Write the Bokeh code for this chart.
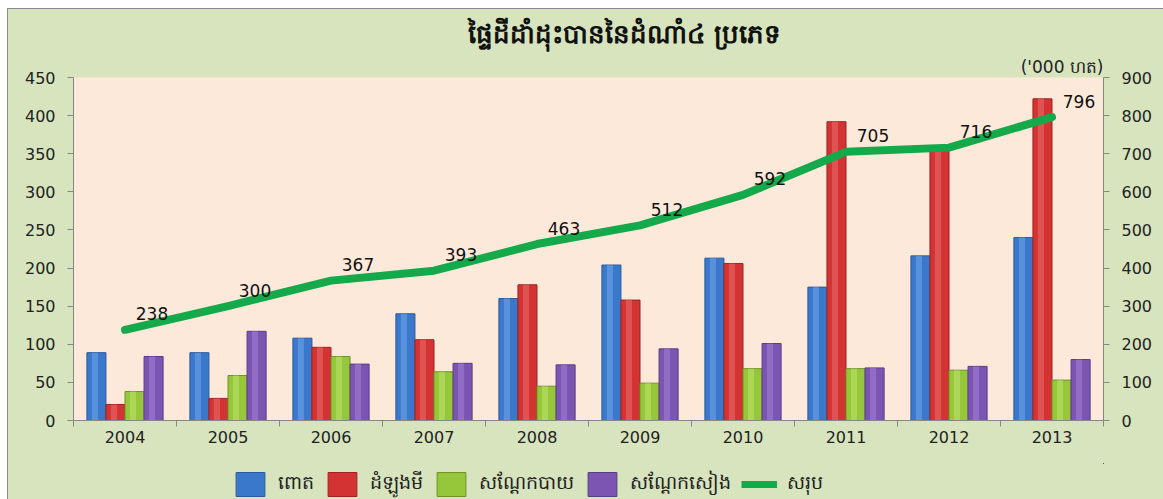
import numpy as np
from bokeh.plotting import figure
from bokeh.layouts import column
from bokeh.models import (ColumnDataSource, Range1d, LinearAxis, FixedTicker,
                          Legend, LegendItem, LabelSet, Title)
from bokeh.core.properties import value
from bokeh.transform import dodge
from bokeh.embed import file_html
from bokeh.resources import INLINE

years = ["2004", "2005", "2006", "2007", "2008", "2009", "2010", "2011", "2012", "2013"]
corn = [89, 89, 108, 140, 160, 204, 213, 175, 216, 240]
cassava = [21, 29, 96, 106, 178, 158, 206, 392, 356, 422]
mungbean = [38, 59, 84, 64, 45, 49, 68, 68, 66, 53]
soybean = [84, 117, 74, 75, 73, 94, 101, 69, 71, 80]
total = [238, 300, 367, 393, 463, 512, 592, 705, 716, 796]

series_names = ["ពោត", "ដំឡូងមី", "សណ្តែកបាយ", "សណ្តែកសៀង", "សរុប"]
title_text = "ផ្ទៃដីដាំដុះបាននៃដំណាំ៤ ប្រភេទ"
unit_text = "('000 ហត)"

KH = "DejaVu Sans"
NUM = "DejaVu Sans"
BG = "#d7e4bd"
AX = "#868686"

pos = [i + 0.5 for i in range(len(years))]
src = ColumnDataSource(dict(x=pos, corn=corn, cassava=cassava, mung=mungbean,
                            soy=soybean, total=total,
                            total_s=[str(v) for v in total]))

W = 1155
H_MAIN = 454
H_LEG = 36
p = figure(width=W, height=H_MAIN, output_backend="svg", toolbar_location=None,
           x_range=Range1d(0, len(years)), y_range=Range1d(0, 450),
           min_border_left=65, min_border_right=60, min_border_top=68,
           min_border_bottom=43)
p.extra_y_ranges = {"right": Range1d(0, 900)}

p.background_fill_color = "#fde9da"
p.border_fill_color = BG
p.outline_line_color = None
p.xgrid.visible = False
p.ygrid.visible = False

bw = 0.185
fills = ["#3a78cc", "#d43333", "#96c63a", "#7b55b1"]
lights = ["#7fb2f0", "#f07a7a", "#c8ec7a", "#ad8ce0"]
lines = ["#2a5a9c", "#9c2424", "#6f9326", "#5a3c86"]
fields = ["corn", "cassava", "mung", "soy"]
offs = [-1.5 * bw, -0.5 * bw, 0.5 * bw, 1.5 * bw]
rends = []
for f, o, fc, lt, lc in zip(fields, offs, fills, lights, lines):
    r = p.vbar(x=dodge("x", o, range=p.x_range), top=f, width=bw, source=src,
               fill_color=fc, line_color=lc, line_width=1)
    p.vbar(x=dodge("x", o - bw * 0.08, range=p.x_range), top=f, width=bw * 0.32, source=src,
           fill_color=lt, fill_alpha=0.45, line_color=None)
    rends.append(r)

lr = p.line("x", "total", source=src, y_range_name="right", line_color="#14a94a",
            line_width=8, line_cap="round", line_join="round")
rends.append(lr)

labels = LabelSet(x="x", y="total", text="total_s", source=src, y_range_name="right",
                  x_offset=27, y_offset=16, text_align="center", text_baseline="middle",
                  text_font=value(NUM), text_font_size=value("17px"), text_color="#111111")
p.add_layout(labels)

# axes
xa = p.xaxis[0]
xa.ticker = FixedTicker(ticks=pos, minor_ticks=list(range(len(years) + 1)))
xa.major_label_overrides = {pv: y for pv, y in zip(pos, years)}
xa.major_tick_out = 0
xa.major_tick_in = 0
xa.minor_tick_out = 6
xa.minor_tick_in = 0
xa.minor_tick_line_color = AX
xa.axis_line_color = AX
xa.major_label_text_font = NUM
xa.major_label_text_font_size = "16px"
xa.major_label_text_color = "#222222"
xa.major_label_standoff = 4

ya = p.yaxis[0]
ya.ticker = FixedTicker(ticks=list(range(0, 451, 50)))
ya.major_tick_out = 6
ya.major_tick_in = 0
ya.minor_tick_out = 0
ya.minor_tick_in = 0
ya.major_tick_line_color = AX
ya.axis_line_color = AX
ya.major_label_text_font = NUM
ya.major_label_text_font_size = "16px"
ya.major_label_text_color = "#222222"
ya.major_label_standoff = 12

ra = LinearAxis(y_range_name="right", ticker=FixedTicker(ticks=list(range(0, 901, 100))))
ra.major_tick_out = 6
ra.major_tick_in = 0
ra.minor_tick_out = 0
ra.minor_tick_in = 0
ra.major_tick_line_color = AX
ra.axis_line_color = AX
ra.major_label_text_font = NUM
ra.major_label_text_font_size = "16px"
ra.major_label_text_color = "#222222"
ra.major_label_standoff = 12
p.add_layout(ra, "right")

p.add_layout(Title(text=unit_text, align="right", standoff=1, text_font=NUM,
                   text_font_size="17px", text_font_style="normal", text_color="#222222"),
             "above")
p.add_layout(Title(text=title_text, align="left", offset=394, standoff=12, text_font=KH,
                   text_font_size="26px", text_font_style="bold", text_color="#111111"),
             "above")

# legend strip (proxy renderers use the same data, kept outside the strip's view)
q = figure(width=W, height=H_LEG, output_backend="svg", toolbar_location=None,
           x_range=Range1d(-100, -99), y_range=Range1d(-100, -99), min_border=0)
q.axis.visible = False
q.grid.visible = False
q.background_fill_color = BG
q.border_fill_color = BG
q.outline_line_color = None
lrends = []
for f, fc, lc in zip(fields, fills, lines):
    lrends.append(q.vbar(x="x", top=f, width=bw, source=src, fill_color=fc,
                         line_color=lc, line_width=1))
lrends.append(q.line("x", "total", source=src, line_color="#14a94a", line_width=7))

legend = Legend(items=[LegendItem(label=n, renderers=[r]) for n, r in zip(series_names, lrends)],
                orientation="horizontal", location=(159, 0),
                glyph_width=36, glyph_height=30, label_standoff=10, spacing=10,
                label_text_font=KH, label_text_font_size="19px", label_text_color="#222222",
                background_fill_alpha=0, border_line_color=None, padding=0, margin=0)
q.add_layout(legend, "center")

layout = column(p, q, spacing=0, margin=(8, 0, 0, 7),
                styles={"border-left": "1px solid #8c8c8c", "border-top": "1px solid #8c8c8c",
                        "background-color": BG})
open("out.html", "w").write(file_html(layout, INLINE))
